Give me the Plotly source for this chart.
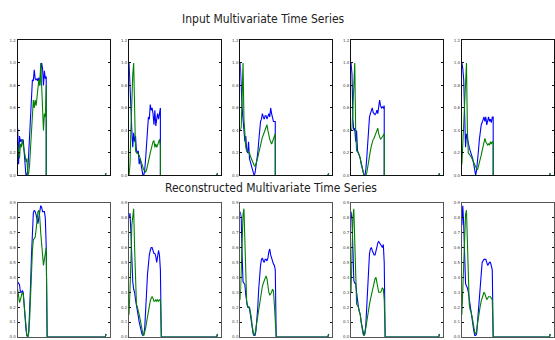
import plotly.graph_objects as go

# ---- data (values at x = 0, 1, 2, ... ; then the series drops to zero) ----
TOP_BLUE = [
    [0.42, 0.10, 0.35, 0.30, 0.32, 0.30, 0.32, 0.22, 0.10, 0.00, 0.00, 0.05, 0.20, 0.35, 0.60, 0.75,
     0.85, 0.84, 0.94, 0.86, 0.85, 0.86, 0.84, 0.87, 0.80, 0.92, 1.00, 0.95, 0.80, 0.93, 0.86, 0.88],
    [1.00, 0.85, 0.60, 0.40, 0.25, 0.38, 0.30, 0.35, 0.22, 0.20, 0.22, 0.10, 0.15, 0.10, 0.05, 0.00,
     0.00, 0.05, 0.15, 0.30, 0.45, 0.52, 0.50, 0.63, 0.58, 0.60, 0.55, 0.45, 0.58, 0.44, 0.50, 0.55,
     0.50, 0.56, 0.60],
    [1.00, 0.75, 0.60, 0.50, 0.35, 0.30, 0.35, 0.22, 0.20, 0.30, 0.15, 0.12, 0.10, 0.05, 0.02, 0.00,
     0.02, 0.08, 0.12, 0.20, 0.30, 0.42, 0.48, 0.50, 0.55, 0.52, 0.50, 0.53, 0.53, 0.50, 0.52, 0.55,
     0.52, 0.60, 0.55, 0.50, 0.48, 0.48, 0.48],
    [1.00, 0.90, 0.50, 0.40, 0.42, 0.30, 0.40, 0.22, 0.20, 0.18, 0.15, 0.10, 0.07, 0.05, 0.00, 0.00,
     0.05, 0.15, 0.30, 0.45, 0.52, 0.55, 0.58, 0.60, 0.56, 0.55, 0.54, 0.55, 0.58, 0.55, 0.60, 0.67,
     0.62, 0.60, 0.61, 0.60, 0.62],
    [1.00, 0.95, 0.85, 0.60, 0.25, 0.37, 0.32, 0.28, 0.25, 0.22, 0.20, 0.17, 0.14, 0.08, 0.04, 0.00,
     0.05, 0.12, 0.22, 0.32, 0.40, 0.45, 0.47, 0.50, 0.52, 0.48, 0.52, 0.45, 0.50, 0.52, 0.48, 0.50,
     0.47, 0.52, 0.52],
]
TOP_GREEN = [
    [0.28, 0.22, 0.15, 0.28, 0.25, 0.32, 0.25, 0.22, 0.18, 0.12, 0.15, 0.00, 0.02, 0.10, 0.25, 0.40,
     0.55, 0.67, 0.60, 0.67, 0.62, 0.70, 0.75, 0.85, 0.80, 1.00, 0.80, 0.60, 0.40, 0.55, 0.52, 0.80],
    [0.00, 0.10, 0.40, 0.70, 0.90, 1.00, 0.45, 0.22, 0.20, 0.20, 0.19, 0.18, 0.15, 0.12, 0.10, 0.06,
     0.05, 0.04, 0.03, 0.05, 0.08, 0.12, 0.16, 0.20, 0.24, 0.28, 0.30, 0.31, 0.25, 0.28, 0.25, 0.27,
     0.30, 0.32, 0.26],
    [0.40, 0.43, 0.70, 1.00, 0.50, 0.30, 0.25, 0.22, 0.22, 0.20, 0.20, 0.17, 0.15, 0.12, 0.10, 0.09,
     0.08, 0.10, 0.13, 0.16, 0.20, 0.23, 0.26, 0.30, 0.34, 0.36, 0.38, 0.40, 0.42, 0.45, 0.40, 0.35,
     0.32, 0.30, 0.28, 0.30, 0.33, 0.36, 0.37],
    [0.40, 0.42, 0.60, 0.85, 1.00, 0.40, 0.22, 0.21, 0.20, 0.18, 0.15, 0.10, 0.08, 0.04, 0.00, 0.00,
     0.00, 0.02, 0.08, 0.12, 0.18, 0.22, 0.26, 0.30, 0.32, 0.33, 0.35, 0.37, 0.40, 0.42, 0.37, 0.34,
     0.32, 0.33, 0.34, 0.36, 0.37],
    [0.10, 0.30, 0.50, 0.75, 0.90, 1.00, 0.40, 0.20, 0.19, 0.18, 0.17, 0.15, 0.13, 0.11, 0.10, 0.08,
     0.06, 0.05, 0.08, 0.10, 0.14, 0.18, 0.22, 0.26, 0.30, 0.33, 0.30, 0.28, 0.27, 0.28, 0.27, 0.30,
     0.28, 0.30, 0.30],
]
BOT_BLUE = [
    [0.37, 0.36, 0.35, 0.30, 0.30, 0.31, 0.30, 0.22, 0.12, 0.05, 0.01, 0.00, 0.03, 0.15, 0.35, 0.55,
     0.72, 0.83, 0.85, 0.84, 0.82, 0.78, 0.76, 0.80, 0.85, 0.88, 0.87, 0.84, 0.84, 0.84, 0.80, 0.60, 0.00],
    [0.80, 0.83, 0.70, 0.50, 0.37, 0.32, 0.30, 0.25, 0.20, 0.17, 0.14, 0.10, 0.07, 0.04, 0.02, 0.01,
     0.02, 0.06, 0.15, 0.30, 0.42, 0.50, 0.55, 0.58, 0.60, 0.60, 0.58, 0.56, 0.56, 0.54, 0.50, 0.54,
     0.58, 0.55, 0.45, 0.00],
    [0.84, 0.80, 0.55, 0.37, 0.36, 0.35, 0.28, 0.22, 0.20, 0.20, 0.19, 0.15, 0.10, 0.05, 0.02, 0.01,
     0.01, 0.04, 0.10, 0.20, 0.32, 0.42, 0.48, 0.52, 0.53, 0.51, 0.50, 0.52, 0.52, 0.51, 0.53, 0.57,
     0.59, 0.55, 0.53, 0.50, 0.49, 0.48, 0.45, 0.00],
    [0.84, 0.78, 0.60, 0.38, 0.36, 0.36, 0.30, 0.22, 0.20, 0.17, 0.15, 0.10, 0.06, 0.02, 0.01, 0.02,
     0.08, 0.20, 0.35, 0.48, 0.56, 0.59, 0.60, 0.58, 0.56, 0.55, 0.55, 0.57, 0.60, 0.63, 0.64, 0.63,
     0.62, 0.61, 0.60, 0.62, 0.50, 0.00],
    [0.75, 0.88, 0.75, 0.45, 0.36, 0.34, 0.33, 0.30, 0.25, 0.20, 0.16, 0.12, 0.08, 0.04, 0.01, 0.01,
     0.02, 0.10, 0.20, 0.30, 0.40, 0.46, 0.50, 0.51, 0.52, 0.52, 0.52, 0.50, 0.48, 0.49, 0.50, 0.50,
     0.48, 0.45, 0.00],
]
BOT_GREEN = [
    [0.32, 0.26, 0.23, 0.25, 0.28, 0.30, 0.29, 0.22, 0.12, 0.05, 0.01, 0.00, 0.03, 0.12, 0.30, 0.45,
     0.58, 0.65, 0.66, 0.67, 0.72, 0.80, 0.84, 0.85, 0.80, 0.70, 0.60, 0.50, 0.48, 0.52, 0.57, 0.60, 0.00],
    [0.15, 0.30, 0.50, 0.75, 0.84, 0.86, 0.60, 0.35, 0.22, 0.20, 0.18, 0.15, 0.12, 0.08, 0.04, 0.02,
     0.01, 0.03, 0.06, 0.10, 0.14, 0.18, 0.21, 0.24, 0.26, 0.27, 0.26, 0.24, 0.24, 0.25, 0.24, 0.25,
     0.24, 0.25, 0.25, 0.00],
    [0.25, 0.45, 0.70, 0.82, 0.86, 0.60, 0.30, 0.22, 0.21, 0.20, 0.20, 0.17, 0.13, 0.07, 0.02, 0.01,
     0.02, 0.06, 0.12, 0.17, 0.21, 0.24, 0.27, 0.31, 0.34, 0.36, 0.38, 0.40, 0.41, 0.39, 0.33, 0.30,
     0.28, 0.29, 0.30, 0.32, 0.31, 0.22, 0.10, 0.00],
    [0.30, 0.60, 0.80, 0.86, 0.60, 0.30, 0.22, 0.21, 0.20, 0.17, 0.15, 0.10, 0.05, 0.02, 0.01, 0.03,
     0.06, 0.10, 0.15, 0.19, 0.22, 0.25, 0.28, 0.31, 0.34, 0.37, 0.39, 0.40, 0.37, 0.33, 0.30, 0.30,
     0.30, 0.31, 0.33, 0.32, 0.25, 0.00],
    [0.15, 0.35, 0.50, 0.70, 0.82, 0.85, 0.60, 0.35, 0.22, 0.18, 0.17, 0.14, 0.10, 0.06, 0.03, 0.02,
     0.04, 0.09, 0.14, 0.18, 0.21, 0.24, 0.26, 0.28, 0.30, 0.29, 0.27, 0.25, 0.26, 0.27, 0.27, 0.27,
     0.26, 0.25, 0.00],
]
# zero tail after each active segment (last points of the series)
TAIL_X = [95, 96]
TAIL_Y = [0.0, 0.02]

TOP_TICKS = [0.0, 0.2, 0.4, 0.6, 0.8, 1.0, 1.2]
BOT_TICKS = [0.0, 0.1, 0.2, 0.3, 0.4, 0.5, 0.6, 0.7, 0.8, 0.9]
TITLES = ["Input Multivariate Time Series", "Reconstructed Multivariate Time Series"]

# ---- layout geometry ----
W, H = 555, 340
COL_LEFT = [17.7, 129.3, 240.7, 351.7, 462.7]
COL_W = 92.3
ROWS = [(38, 175), (202.7, 339)]  # pixel top, bottom

BLUE = "#0000ff"
GREEN = "#008000"

fig = go.Figure()
layout = dict(
    width=W, height=H, margin=dict(l=0, r=0, t=0, b=0),
    paper_bgcolor="white", plot_bgcolor="white", showlegend=False,
)

def series_xy(vals):
    n = len(vals)
    xs = list(range(n))
    ys = list(vals)
    last = n - 1
    if ys[-1] != 0:
        xs.append(last)
        ys.append(0.0)
    xs += TAIL_X
    ys += TAIL_Y
    return xs, ys

k = 0
for r, (blues, greens, ticks, ymax) in enumerate([
        (TOP_BLUE, TOP_GREEN, TOP_TICKS, 1.2), (BOT_BLUE, BOT_GREEN, BOT_TICKS, 0.9)]):
    ptop, pbot = ROWS[r]
    for c in range(5):
        k += 1
        xa = "x" if k == 1 else f"x{k}"
        ya = "y" if k == 1 else f"y{k}"
        for vals, col in ((blues[c], BLUE), (greens[c], GREEN)):
            xs, ys = series_xy(vals)
            fig.add_trace(go.Scatter(x=xs, y=ys, mode="lines", xaxis=xa, yaxis=ya,
                                     line=dict(color=col, width=1.1), hoverinfo="skip"))
        lc = "#111111" if r == 0 else "#555555"
        layout["xaxis" if k == 1 else f"xaxis{k}"] = dict(
            domain=[COL_LEFT[c] / W, min(1.0, (COL_LEFT[c] + COL_W) / W)],
            range=[0, 100], showgrid=False, zeroline=False, showticklabels=False,
            showline=True, mirror=True, linecolor=lc, linewidth=1, ticks="",
            anchor=ya,
        )
        layout["yaxis" if k == 1 else f"yaxis{k}"] = dict(
            domain=[1 - pbot / H, 1 - ptop / H],
            range=[0, ymax], tickvals=ticks, ticktext=[f"{t:.1f}" for t in ticks],
            showgrid=False, zeroline=False, showline=True, mirror="ticks",
            linecolor=lc, linewidth=1, ticks="inside", ticklen=2, tickcolor="#111111",
            tickfont=dict(size=4, color="#444444", family="DejaVu Sans"),
            anchor=xa,
        )

fig.update_layout(**layout)
fig.add_annotation(text=TITLES[0], x=264 / W, y=1 - 16 / H, xref="paper", yref="paper",
                   showarrow=False, xanchor="center", yanchor="middle",
                   font=dict(family="Liberation Sans Narrow, DejaVu Sans Condensed", size=12, color="#222222"))
fig.add_annotation(text=TITLES[1], x=271 / W, y=1 - 187.5 / H, xref="paper", yref="paper",
                   showarrow=False, xanchor="center", yanchor="middle",
                   font=dict(family="Liberation Sans Narrow, DejaVu Sans Condensed", size=12, color="#222222"))

fig.write_html("out.html")
